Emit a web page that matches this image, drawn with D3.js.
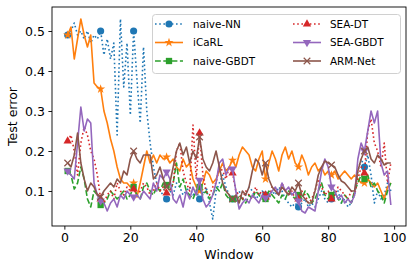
<!DOCTYPE html>
<html>
<head>
<meta charset="utf-8">
<script src="https://cdn.jsdelivr.net/npm/d3@7"></script>
<style>
body { margin: 0; background: #fff; }
svg { font-family: "DejaVu Sans", sans-serif; }
</style>
</head>
<body>
<svg width="415" height="270"></svg>
<script>
// window index 1..99
const windows = d3.range(1, 100);

const naiveNN = [
  0.49, 0.50, 0.52, 0.49, 0.50, 0.48, 0.50, 0.47, 0.49, 0.48,
  0.50, 0.44, 0.48, 0.43, 0.47, 0.24, 0.53, 0.36, 0.47, 0.29,
  0.50, 0.38, 0.27, 0.46, 0.30, 0.22, 0.16, 0.12, 0.10, 0.09,
  0.08, 0.10, 0.09, 0.12, 0.11, 0.09, 0.10, 0.11, 0.09, 0.10,
  0.08, 0.09, 0.11, 0.07, 0.03, 0.10, 0.12, 0.14, 0.11, 0.09,
  0.08, 0.09, 0.10, 0.08, 0.09, 0.11, 0.10, 0.08, 0.09, 0.10,
  0.09, 0.08, 0.10, 0.09, 0.11, 0.10, 0.08, 0.07, 0.06, 0.07,
  0.06, 0.07, 0.08, 0.06, 0.07, 0.06, 0.08, 0.10, 0.08, 0.07,
  0.08, 0.09, 0.10, 0.07, 0.08, 0.06, 0.07, 0.09, 0.15, 0.18,
  0.16, 0.19, 0.14, 0.07, 0.10, 0.08, 0.09, 0.12, 0.10
];

const icarl = [
  0.49, 0.51, 0.43, 0.48, 0.53, 0.49, 0.46, 0.49, 0.37, 0.36,
  0.355, 0.30, 0.27, 0.23, 0.20, 0.16, 0.13, 0.12, 0.12, 0.11,
  0.12, 0.085, 0.12, 0.16, 0.20, 0.17, 0.19, 0.17, 0.19, 0.18,
  0.185, 0.17, 0.18, 0.16, 0.15, 0.18, 0.16, 0.17, 0.13, 0.11,
  0.10, 0.12, 0.15, 0.14, 0.12, 0.13, 0.15, 0.17, 0.15, 0.16,
  0.177, 0.16, 0.19, 0.21, 0.20, 0.19, 0.16, 0.15, 0.18, 0.20,
  0.13, 0.17, 0.20, 0.18, 0.15, 0.19, 0.21, 0.18, 0.20, 0.17,
  0.16, 0.19, 0.17, 0.14, 0.16, 0.17, 0.15, 0.16, 0.14, 0.15,
  0.14, 0.15, 0.13, 0.14, 0.15, 0.14, 0.13, 0.14, 0.13, 0.12,
  0.12, 0.13, 0.12, 0.11, 0.12, 0.10, 0.08, 0.11, 0.12
];

const naiveGBDT = [
  0.15, 0.14, 0.105, 0.12, 0.16, 0.13, 0.08, 0.06, 0.10, 0.09,
  0.065, 0.07, 0.08, 0.10, 0.09, 0.08, 0.09, 0.10, 0.08, 0.09,
  0.11, 0.09, 0.08, 0.11, 0.12, 0.10, 0.09, 0.11, 0.10, 0.12,
  0.115, 0.10, 0.12, 0.17, 0.11, 0.13, 0.10, 0.09, 0.08, 0.10,
  0.11, 0.09, 0.10, 0.08, 0.09, 0.11, 0.10, 0.12, 0.09, 0.08,
  0.08, 0.07, 0.09, 0.08, 0.07, 0.09, 0.08, 0.10, 0.09, 0.08,
  0.08, 0.10, 0.09, 0.08, 0.07, 0.09, 0.08, 0.10, 0.09, 0.08,
  0.09, 0.08, 0.10, 0.09, 0.07, 0.08, 0.10, 0.12, 0.09, 0.08,
  0.09, 0.10, 0.08, 0.07, 0.09, 0.08, 0.07, 0.10, 0.12, 0.14,
  0.13, 0.14, 0.11, 0.12, 0.10, 0.09, 0.07, 0.10, 0.12
];

const seaDT = [
  0.225, 0.24, 0.20, 0.14, 0.22, 0.26, 0.24, 0.20, 0.18, 0.14,
  0.08, 0.07, 0.09, 0.10, 0.08, 0.12, 0.10, 0.09, 0.11, 0.10,
  0.105, 0.09, 0.10, 0.12, 0.11, 0.09, 0.10, 0.12, 0.10, 0.11,
  0.095, 0.10, 0.12, 0.20, 0.22, 0.15, 0.12, 0.10, 0.265, 0.13,
  0.245, 0.14, 0.10, 0.09, 0.11, 0.12, 0.16, 0.15, 0.13, 0.16,
  0.145, 0.10, 0.09, 0.08, 0.10, 0.09, 0.08, 0.11, 0.09, 0.10,
  0.09, 0.08, 0.11, 0.10, 0.09, 0.12, 0.10, 0.09, 0.10, 0.08,
  0.08, 0.10, 0.09, 0.07, 0.08, 0.10, 0.13, 0.11, 0.09, 0.10,
  0.08, 0.09, 0.11, 0.10, 0.09, 0.08, 0.10, 0.09, 0.13, 0.16,
  0.145, 0.25, 0.28, 0.22, 0.20, 0.16, 0.22, 0.12, 0.17
];

const seaGBDT = [
  0.15, 0.14, 0.13, 0.22, 0.31, 0.25, 0.28, 0.27, 0.12, 0.09,
  0.075, 0.07, 0.05, 0.07, 0.08, 0.06, 0.09, 0.08, 0.10, 0.09,
  0.085, 0.09, 0.08, 0.10, 0.09, 0.08, 0.12, 0.10, 0.14, 0.13,
  0.148, 0.13, 0.08, 0.07, 0.09, 0.06, 0.10, 0.08, 0.11, 0.09,
  0.127, 0.08, 0.06, 0.07, 0.09, 0.12, 0.17, 0.18, 0.14, 0.16,
  0.155, 0.10, 0.055, 0.07, 0.08, 0.07, 0.09, 0.08, 0.07, 0.09,
  0.083, 0.09, 0.10, 0.11, 0.09, 0.12, 0.10, 0.11, 0.09, 0.10,
  0.075, 0.05, 0.045, 0.06, 0.055, 0.05, 0.10, 0.15, 0.18, 0.16,
  0.11, 0.10, 0.08, 0.09, 0.07, 0.08, 0.07, 0.09, 0.18, 0.22,
  0.20, 0.25, 0.30, 0.27, 0.30, 0.17, 0.14, 0.15, 0.065
];

const armNet = [
  0.17, 0.16, 0.19, 0.245, 0.17, 0.13, 0.10, 0.12, 0.11, 0.09,
  0.085, 0.10, 0.11, 0.12, 0.11, 0.13, 0.12, 0.15, 0.14, 0.18,
  0.20, 0.18, 0.17, 0.19, 0.19, 0.19, 0.13, 0.14, 0.16, 0.13,
  0.11, 0.12, 0.16, 0.20, 0.22, 0.19, 0.21, 0.17, 0.20, 0.18,
  0.235, 0.18, 0.16, 0.15, 0.17, 0.20, 0.16, 0.12, 0.10, 0.09,
  0.08, 0.09, 0.07, 0.10, 0.09, 0.11, 0.15, 0.18, 0.17, 0.14,
  0.17, 0.13, 0.11, 0.10, 0.09, 0.11, 0.10, 0.09, 0.11, 0.10,
  0.12, 0.09, 0.08, 0.07, 0.07, 0.10, 0.14, 0.16, 0.175, 0.17,
  0.165, 0.16, 0.14, 0.125, 0.12, 0.11, 0.10, 0.10, 0.15, 0.18,
  0.20, 0.21, 0.18, 0.17, 0.19, 0.18, 0.165, 0.17, 0.17
];

const xTicks = [0, 20, 40, 60, 80, 100];
const yTicks = [0.1, 0.2, 0.3, 0.4, 0.5];

const series = [
  {name: 'naive-NN', values: naiveNN, color: '#1f77b4', dash: '1.6,2.6', symbol: d3.symbolCircle, size: 40},
  {name: 'iCaRL', values: icarl, color: '#ff7f0e', dash: null, symbol: d3.symbolStar, size: 26},
  {name: 'naive-GBDT', values: naiveGBDT, color: '#2ca02c', dash: '5.8,2.5', symbol: d3.symbolSquare, size: 40},
  {name: 'SEA-DT', values: seaDT, color: '#d62728', dash: '1.6,2.6', symbol: d3.symbolTriangle, size: 30},
  {name: 'SEA-GBDT', values: seaGBDT, color: '#9467bd', dash: null, symbol: d3.symbolTriangle, size: 30, flip: true},
  {name: 'ARM-Net', values: armNet, color: '#8c564b', dash: null, symbol: d3.symbolX, size: 30, stroke: true}
];

const svg = d3.select('svg');
const plotL = 52, plotR = 406, plotT = 7, plotB = 226;

const x = d3.scaleLinear().domain([-3.75, 103.6]).range([plotL, plotR]);
const y = d3.scaleLinear().domain([0.0125, 0.56]).range([plotB, plotT]);

svg.append('defs').append('clipPath').attr('id', 'plot')
  .append('rect').attr('x', plotL).attr('y', plotT)
  .attr('width', plotR - plotL).attr('height', plotB - plotT);

const line = d3.line()
  .x((d, i) => x(windows[i]))
  .y(d => y(d));

const plot = svg.append('g').attr('clip-path', 'url(#plot)');

function drawMarker(g, s, cx, cy) {
  const path = d3.symbol().type(s.symbol).size(s.size)();
  const m = g.append('path')
    .attr('d', path)
    .attr('transform', `translate(${cx},${cy})` + (s.flip ? ' rotate(180)' : ''));
  if (s.stroke) {
    m.attr('fill', 'none').attr('stroke', s.color).attr('stroke-width', 1.2);
  } else {
    m.attr('fill', s.color).attr('stroke', 'none');
  }
}

series.forEach(s => {
  plot.append('path')
    .datum(s.values)
    .attr('fill', 'none')
    .attr('stroke', s.color)
    .attr('stroke-width', 1.6)
    .attr('stroke-dasharray', s.dash)
    .attr('stroke-linejoin', 'round')
    .attr('d', line);
  s.values.forEach((v, i) => {
    if (i % 10 === 0) drawMarker(plot, s, x(windows[i]), y(v));
  });
});

// axes
const xAxis = svg.append('g')
  .attr('transform', `translate(0,${plotB})`)
  .call(d3.axisBottom(x).tickValues(xTicks).tickFormat(d3.format('d')).tickSize(3.6).tickPadding(3.5));
const yAxis = svg.append('g')
  .attr('transform', `translate(${plotL},0)`)
  .call(d3.axisLeft(y).tickValues(yTicks).tickFormat(d3.format('.1f')).tickSize(3.6).tickPadding(3.5));

[xAxis, yAxis].forEach(a => {
  a.select('.domain').remove();
  a.selectAll('text').attr('font-size', 12.5).attr('font-family', 'DejaVu Sans').attr('fill', '#000');
  a.selectAll('line').attr('stroke', '#000').attr('stroke-width', 0.9);
});

svg.append('rect')
  .attr('x', plotL).attr('y', plotT)
  .attr('width', plotR - plotL).attr('height', plotB - plotT)
  .attr('fill', 'none').attr('stroke', '#000').attr('stroke-width', 0.9);

svg.append('text')
  .attr('x', (plotL + plotR) / 2).attr('y', 259)
  .attr('text-anchor', 'middle').attr('font-size', 12.5)
  .text('Window');

svg.append('text')
  .attr('transform', `translate(17,${(plotT + plotB) / 2}) rotate(-90)`)
  .attr('text-anchor', 'middle').attr('font-size', 12.5)
  .text('Test error');

// legend
const legend = svg.append('g');
legend.append('rect')
  .attr('x', 152.5).attr('y', 14.5).attr('width', 248).attr('height', 59)
  .attr('rx', 3).attr('fill', '#fff').attr('fill-opacity', 0.8)
  .attr('stroke', '#d0d0d0').attr('stroke-width', 1);

const cols = [{hx: 155, tx: 193}, {hx: 293, tx: 330}];
const rows = [24, 42.5, 61];
series.forEach((s, i) => {
  const c = cols[Math.floor(i / 3)];
  const ry = rows[i % 3];
  legend.append('line')
    .attr('x1', c.hx).attr('x2', c.hx + 28)
    .attr('y1', ry).attr('y2', ry)
    .attr('stroke', s.color).attr('stroke-width', 1.6)
    .attr('stroke-dasharray', s.dash);
  drawMarker(legend, s, c.hx + 14, ry);
  legend.append('text')
    .attr('x', c.tx).attr('y', ry + 3.8)
    .attr('font-size', 10.4)
    .text(s.name);
});
</script>
</body>
</html>
